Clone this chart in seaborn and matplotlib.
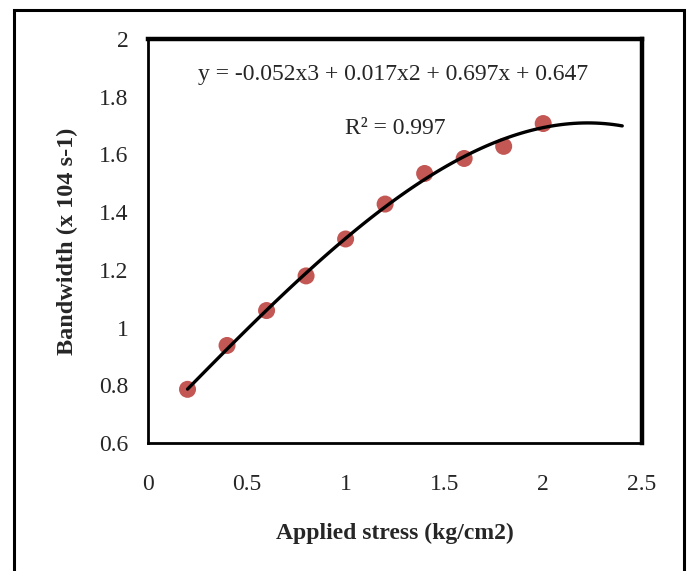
import numpy as np
import matplotlib
matplotlib.use("Agg")
import matplotlib.pyplot as plt
import seaborn as sns
from matplotlib.patches import Rectangle

sns.set_style("white")
plt.rcParams['font.family'] = ['Liberation Serif', 'DejaVu Serif']

# measured points
stress = [0.2, 0.4, 0.6, 0.8, 1.0, 1.2, 1.4, 1.6, 1.8, 2.0]
bandwidth = [0.786, 0.938, 1.059, 1.179, 1.307, 1.428, 1.534, 1.586, 1.628, 1.707]

# trendline coefficients shown on the chart (x3, x2, x, const)
coeffs = [-0.052, 0.017, 0.697, 0.647]
trend_x = np.linspace(0.2, 2.4, 100)
trend_y = np.polyval(coeffs, trend_x)

fig = plt.figure(figsize=(6.91, 5.71), dpi=100)
ax = fig.add_axes([148/691, 1 - 443/571, (642 - 148)/691, (443 - 39)/571])

sns.scatterplot(x=stress, y=bandwidth, ax=ax, s=150, color='#bf4e4b',
                edgecolor='none', alpha=0.95, zorder=2)
sns.lineplot(x=trend_x, y=trend_y, ax=ax, color='black', linewidth=2.4, zorder=3)

ax.set_xlim(0, 2.5)
ax.set_ylim(0.6, 2.0)
ax.set_xticks([0, 0.5, 1, 1.5, 2, 2.5])
ax.set_xticklabels(['0', '0.5', '1', '1.5', '2', '2.5'])
ax.set_yticks([0.6, 0.8, 1.0, 1.2, 1.4, 1.6, 1.8, 2.0])
ax.set_yticklabels(['0.6', '0.8', '1', '1.2', '1.4', '1.6', '1.8', '2'])
ax.tick_params(axis='both', direction='out', length=5, width=1.2, color='#a6a6a6',
               labelsize=17)
ax.tick_params(axis='y', pad=9)
ax.tick_params(axis='x', pad=17)

ax.spines['top'].set_linewidth(3.2)
ax.spines['right'].set_linewidth(3.2)
ax.spines['left'].set_linewidth(2.0)
ax.spines['bottom'].set_linewidth(2.0)
for s in ax.spines.values():
    s.set_color('black')

ax.set_xlabel('Applied stress (kg/cm2)', fontsize=17, fontweight='bold', labelpad=20)
ax.set_ylabel('Bandwidth (x 104 s-1)', fontsize=17.5, fontweight='bold', labelpad=15)

ax.text(0.497, 0.913, 'y = -0.052x3 + 0.017x2 + 0.697x + 0.647', transform=ax.transAxes,
        ha='center', va='center', fontsize=17)
ax.text(0.5, 0.779, 'R² = 0.997', transform=ax.transAxes,
        ha='center', va='center', fontsize=17)

# outer frame around the whole chart
fig.patches.append(Rectangle((14/691, -0.02), (684 - 14)/691, 1 - 10/571 + 0.02,
                             transform=fig.transFigure, fill=False,
                             edgecolor='black', linewidth=2.2))

fig.savefig('out.png', dpi=100)
